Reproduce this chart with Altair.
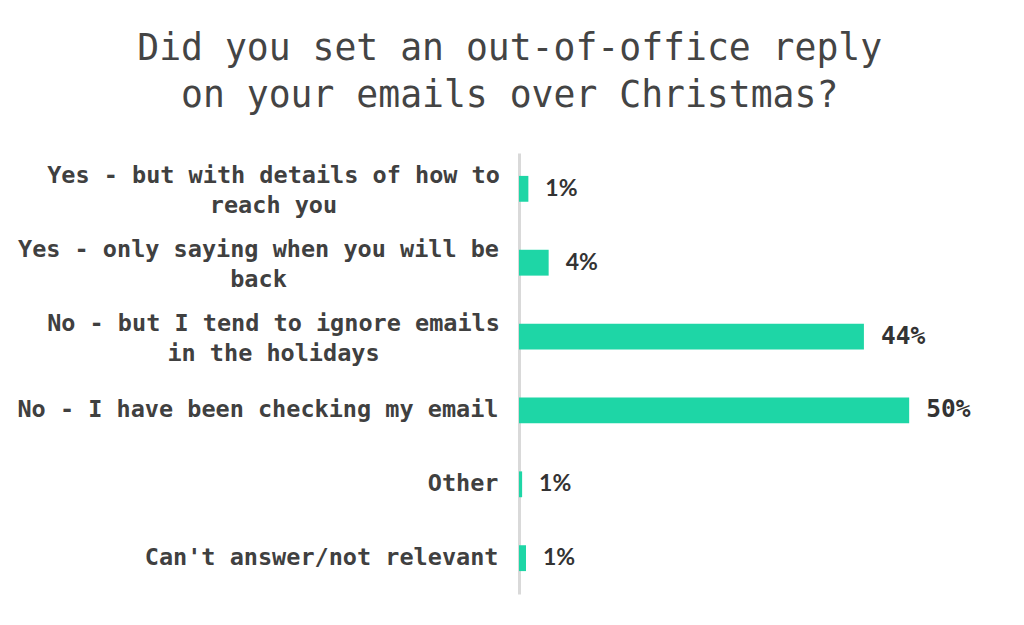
import altair as alt
import pandas as pd

categories = [
    "Yes - but with details of how to|reach you",
    "Yes - only saying when you will be|back",
    "No - but I tend to ignore emails|in the holidays",
    "No - I have been checking my email",
    "Other",
    "Can't answer/not relevant",
]
values = [1.2, 3.8, 44.2, 50.0, 0.4, 0.9]
value_labels = ["1%", "4%", "44%", "50%", "1%", "1%"]

df = pd.DataFrame({"cat": categories, "val": values, "lab": value_labels})

BAR = "#1ed6a6"
TXT = "#404040"

pad_cond = [
    {"test": "datum.value == '%s'" % categories[0], "value": 246},
    {"test": "datum.value == '%s'" % categories[1], "value": 261},
    {"test": "datum.value == '%s'" % categories[2], "value": 246},
]
multi = "indexof(datum.value, '|') >= 0"

y = alt.Y(
    "cat:N",
    sort=categories,
    title=None,
    scale=alt.Scale(paddingInner=0.65, paddingOuter=0.31),
    axis=alt.Axis(
        labelExpr="split(datum.label, '|')",
        labelFont="DejaVu Sans Mono",
        labelFontWeight="bold",
        labelFontSize=23.5,
        labelColor=TXT,
        labelLimit=0,
        labelLineHeight=30,
        labelAlign={"condition": {"test": multi, "value": "center"}, "value": "right"},
        labelOffset={"condition": {"test": multi, "value": -13}, "value": 0},
        labelPadding={"condition": pad_cond, "value": 21},
        ticks=False,
        domainColor="#d9d9d9",
        domainWidth=3,
        grid=False,
    ),
)
x = alt.X("val:Q", axis=None, scale=alt.Scale(domain=[0, 56]))

base = alt.Chart(df)
bars = base.mark_bar(color=BAR, cornerRadius=0).encode(x=x, y=y)
small = base.transform_filter("datum.val < 10").mark_text(
    align="left", baseline="middle", dx=17, font="Lato", fontWeight="bold",
    fontSize=23, color="#333333"
).encode(x=x, y=y, text="lab:N")
large = base.transform_filter("datum.val >= 10").mark_text(
    align="left", baseline="middle", dx=17, font="DejaVu Sans Mono", fontWeight="bold",
    fontSize=24.5, color="#333333"
).encode(x=x, y=y, text="lab:N")

chart = (
    alt.layer(bars, small, large)
    .properties(
        width=437,
        height=441,
        background="white",
        padding={"left": 8, "top": 22, "right": 5, "bottom": 5},
        title=alt.TitleParams(
            ["Did you set an out-of-office reply", "on your emails over Christmas?"],
            font="DejaVu Sans Mono",
            fontSize=36.4,
            fontWeight="normal",
            color="#444444",
            lineHeight=47,
            anchor="middle",
            frame="bounds",
            dx=16,
            offset=39,
        ),
    )
    .configure_view(strokeWidth=0)
)

chart.save("out.html", embed_options={"renderer": "svg", "actions": False})
